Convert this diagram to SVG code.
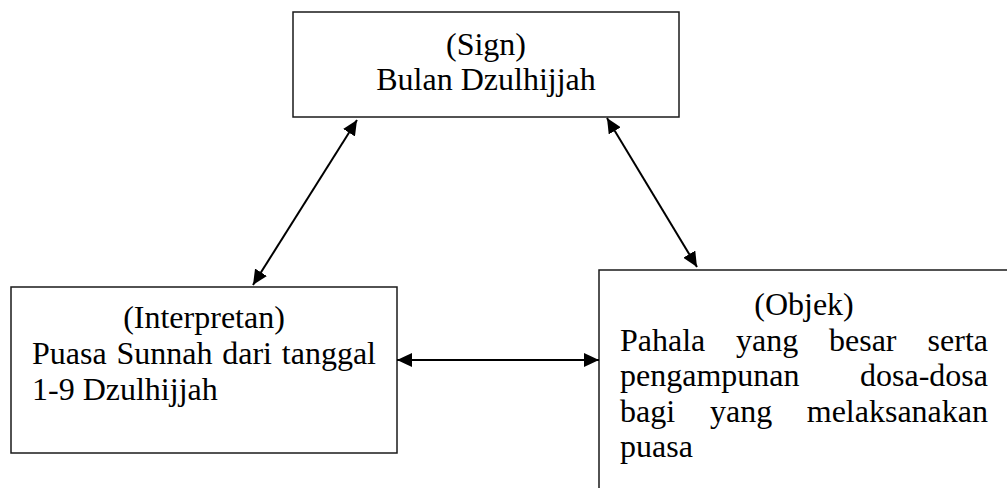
<svg xmlns="http://www.w3.org/2000/svg" width="1007" height="488" viewBox="0 0 1007 488">
  <style>
    .box { fill: #ffffff; stroke: #1a1a1a; stroke-width: 1.5; }
    .t { font-family: "Liberation Serif", "Times New Roman", serif; font-size: 32px; fill: #000; }
    .c { text-anchor: middle; }
    .conn { stroke: #000; stroke-width: 2; fill: none; marker-start: url(#ah); marker-end: url(#ah); }
  </style>
  <defs>
    <marker id="ah" viewBox="0 0 15 14" refX="15" refY="7" markerWidth="15" markerHeight="14" markerUnits="userSpaceOnUse" orient="auto-start-reverse">
      <path d="M0,0 L15,7 L0,14 z" fill="#000"/>
    </marker>
  </defs>
  <rect width="1007" height="488" fill="#ffffff"/>

  <g id="node-sign">
    <rect class="box" x="293" y="12" width="386" height="105"/>
    <text class="t c" x="486" y="55">(Sign)</text>
    <text class="t c" x="486" y="89.5">Bulan Dzulhijjah</text>
  </g>

  <g id="node-interpretan">
    <rect class="box" x="11" y="287" width="386" height="166"/>
    <text class="t c" x="204" y="328">(Interpretan)</text>
    <text class="t" x="32" y="364" word-spacing="1.8">Puasa Sunnah dari tanggal</text>
    <text class="t" x="32" y="399.5">1-9 Dzulhijjah</text>
  </g>

  <g id="node-objek">
    <rect class="box" x="599" y="270" width="430" height="240"/>
    <text class="t c" x="804" y="315">(Objek)</text>
    <text class="t" y="350.5"><tspan x="620">Pahala</tspan><tspan x="736">yang</tspan><tspan x="829">besar</tspan></text>
    <text class="t" x="988" y="350.5" text-anchor="end">serta</text>
    <text class="t" x="620" y="386">pengampunan</text>
    <text class="t" x="988" y="386" text-anchor="end">dosa-dosa</text>
    <text class="t" y="421.5"><tspan x="620">bagi</tspan><tspan x="710">yang</tspan></text>
    <text class="t" x="988" y="421.5" text-anchor="end">melaksanakan</text>
    <text class="t" x="620" y="457">puasa</text>
  </g>

  <g id="connectors">
    <line class="conn" x1="357" y1="120" x2="253" y2="285"/>
    <line class="conn" x1="607" y1="118" x2="697" y2="267"/>
    <line class="conn" x1="397" y1="360" x2="599" y2="360"/>
  </g>
</svg>
